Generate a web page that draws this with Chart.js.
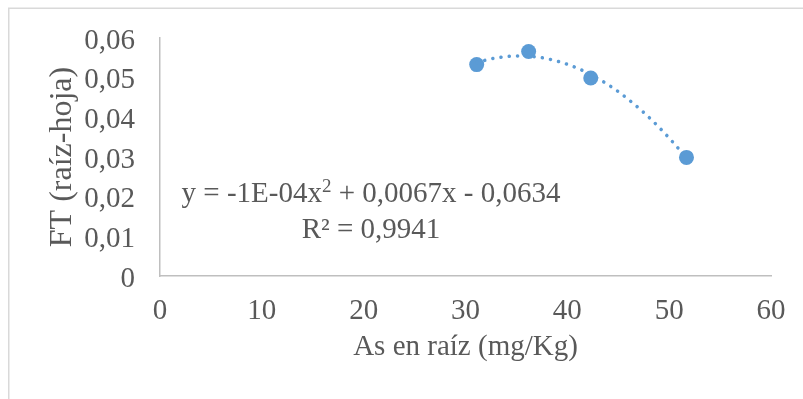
<!DOCTYPE html>
<html>
<head>
<meta charset="utf-8">
<script src="https://cdn.jsdelivr.net/npm/chart.js@4/dist/chart.umd.min.js"></script>
<style>
  html, body { margin: 0; padding: 0; background: #ffffff; overflow: hidden; }
  canvas { display: block; }
</style>
</head>
<body>
<canvas id="chart" width="803" height="399"></canvas>
<script>
// Measured samples: arsenic in root vs. translocation factor (root-leaf)
const asRaiz = [31.1, 36.2, 42.3, 51.7];
const ftRaizHoja = [0.0533, 0.0566, 0.0499, 0.0299];

const xTickLabels = ['0', '10', '20', '30', '40', '50', '60'];
const yTickLabels = ['0', '0,01', '0,02', '0,03', '0,04', '0,05', '0,06'];

const xTitle = 'As en raíz (mg/Kg)';
const yTitle = 'FT (raíz-hoja)';

// Trendline equation as printed (main text, superscript, rest) and its R²
const eqParts = ['y = -1E-04x', '2', ' + 0,0067x - 0,0634'];
const r2Text = 'R² = 0,9941';

const TEXT_COLOR = '#595959';
const SERIES_COLOR = '#5B9BD5';
const FONT_FAMILY = "'Liberation Serif', 'Times New Roman', serif";
const TEXT_SIZE = 29;

// Least-squares second-order polynomial fit y = a x^2 + b x + c
function quadFit(xs, ys) {
  const S = [0, 0, 0, 0, 0];
  const T = [0, 0, 0];
  for (let i = 0; i < xs.length; i++) {
    let p = 1;
    for (let k = 0; k < 5; k++) { S[k] += p; p *= xs[i]; }
    T[0] += ys[i];
    T[1] += xs[i] * ys[i];
    T[2] += xs[i] * xs[i] * ys[i];
  }
  const M = [
    [S[4], S[3], S[2], T[2]],
    [S[3], S[2], S[1], T[1]],
    [S[2], S[1], S[0], T[0]]
  ];
  for (let col = 0; col < 3; col++) {
    let piv = col;
    for (let r = col + 1; r < 3; r++) if (Math.abs(M[r][col]) > Math.abs(M[piv][col])) piv = r;
    [M[col], M[piv]] = [M[piv], M[col]];
    for (let r = 0; r < 3; r++) {
      if (r === col) continue;
      const f = M[r][col] / M[col][col];
      for (let k = col; k < 4; k++) M[r][k] -= f * M[col][k];
    }
  }
  return { a: M[0][3] / M[0][0], b: M[1][3] / M[1][1], c: M[2][3] / M[2][2] };
}

const fit = quadFit(asRaiz, ftRaizHoja);
const xMinFit = Math.min(...asRaiz);
const xMaxFit = Math.max(...asRaiz);
const trendPoints = [];
const STEPS = 80;
for (let i = 0; i <= STEPS; i++) {
  const x = xMinFit + (xMaxFit - xMinFit) * i / STEPS;
  trendPoints.push({ x, y: fit.a * x * x + fit.b * x + fit.c });
}

// Light frame around the whole chart
const framePlugin = {
  id: 'frame',
  beforeDraw(chart) {
    const c = chart.ctx;
    c.save();
    c.fillStyle = '#ffffff';
    c.fillRect(0, 0, chart.width, chart.height);
    c.strokeStyle = '#D9D9D9';
    c.lineWidth = 1.5;
    c.strokeRect(8.75, 8.25, chart.width + 10, chart.height + 10);
    c.restore();
  }
};

// Trendline equation and R² label
const equationPlugin = {
  id: 'equation',
  afterDraw(chart, args, opts) {
    const c = chart.ctx;
    c.save();
    c.fillStyle = TEXT_COLOR;
    c.textBaseline = 'alphabetic';
    c.textAlign = 'left';
    const mainFont = `${TEXT_SIZE}px ${FONT_FAMILY}`;
    const supFont = `19px ${FONT_FAMILY}`;
    c.font = mainFont;
    const w1 = c.measureText(eqParts[0]).width;
    const w3 = c.measureText(eqParts[2]).width;
    c.font = supFont;
    const w2 = c.measureText(eqParts[1]).width;
    const total = w1 + w2 + w3;
    let x = opts.cx - total / 2;
    c.font = mainFont;
    c.fillText(eqParts[0], x, opts.line1);
    x += w1;
    c.font = supFont;
    c.fillText(eqParts[1], x, opts.line1 - 10);
    x += w2;
    c.font = mainFont;
    c.fillText(eqParts[2], x, opts.line1);
    c.textAlign = 'center';
    c.fillText(r2Text, opts.cx, opts.line2);
    c.restore();
  }
};

const tickFont = { family: FONT_FAMILY, size: TEXT_SIZE };

new Chart(document.getElementById('chart'), {
  type: 'scatter',
  data: {
    datasets: [
      {
        label: 'FT',
        data: asRaiz.map((x, i) => ({ x, y: ftRaizHoja[i] })),
        pointRadius: 7.5,
        pointHoverRadius: 7.5,
        backgroundColor: SERIES_COLOR,
        borderWidth: 0,
        showLine: false,
        order: 2
      },
      {
        label: 'Polinómica (FT)',
        data: trendPoints,
        showLine: true,
        pointRadius: 0,
        borderColor: SERIES_COLOR,
        borderWidth: 3.5,
        borderDash: [0.1, 8.2],
        borderCapStyle: 'round',
        tension: 0,
        fill: false,
        order: 1
      }
    ]
  },
  options: {
    responsive: false,
    devicePixelRatio: 1,
    animation: false,
    events: [],
    layout: { padding: { top: 38, right: 32, bottom: 0, left: 0 } },
    plugins: {
      legend: { display: false },
      tooltip: { enabled: false },
      equation: { cx: 371, line1: 202, line2: 238 }
    },
    scales: {
      x: {
        type: 'linear',
        min: 0,
        max: 60,
        ticks: {
          stepSize: 10,
          padding: 17.5,
          color: TEXT_COLOR,
          font: tickFont,
          maxRotation: 0,
          callback: (v) => xTickLabels[Math.round(v / 10)]
        },
        grid: { display: true, drawOnChartArea: false, drawTicks: false, color: 'rgba(0,0,0,0)' },
        border: { display: true, color: '#BFBFBF', width: 1.5 },
        title: {
          display: true,
          text: xTitle,
          color: TEXT_COLOR,
          font: { family: FONT_FAMILY, size: TEXT_SIZE },
          padding: { top: 0, bottom: 34 }
        },
        afterFit: (scale) => {
          scale.height = 123;
          scale.paddingLeft = 0;
          scale.paddingRight = 0;
        }
      },
      y: {
        type: 'linear',
        min: 0,
        max: 0.06,
        ticks: {
          stepSize: 0.01,
          padding: 25,
          labelOffset: 3,
          color: TEXT_COLOR,
          font: tickFont,
          callback: (v) => yTickLabels[Math.round(v * 100)]
        },
        grid: { display: true, drawOnChartArea: false, drawTicks: false, color: 'rgba(0,0,0,0)' },
        border: { display: true, color: '#BFBFBF', width: 1.5 },
        title: {
          display: true,
          text: yTitle,
          color: TEXT_COLOR,
          font: { family: FONT_FAMILY, size: 32 },
          padding: { top: 43, bottom: 0 }
        },
        afterFit: (scale) => {
          scale.width = 160;
          scale.paddingTop = 0;
          scale.paddingBottom = 0;
        }
      }
    }
  },
  plugins: [framePlugin, equationPlugin]
});
</script>
</body>
</html>
